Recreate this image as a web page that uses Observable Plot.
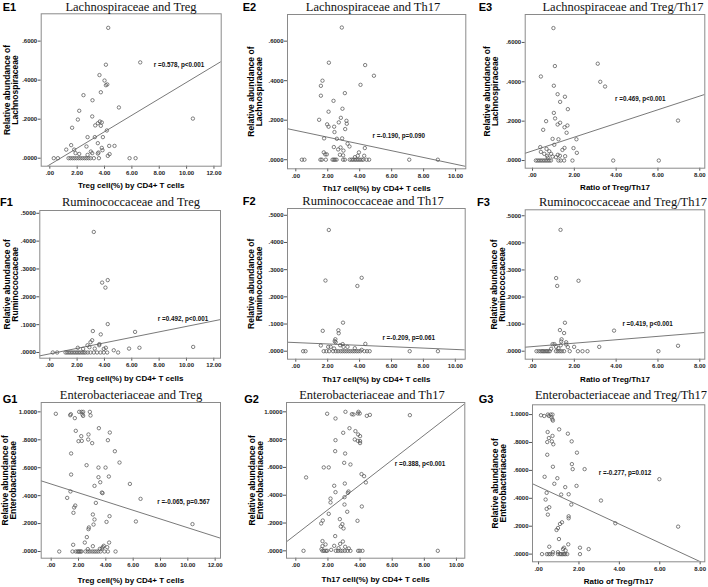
<!DOCTYPE html>
<html><head><meta charset="utf-8">
<script src="https://cdn.jsdelivr.net/npm/d3@7"></script>
<script src="https://cdn.jsdelivr.net/npm/@observablehq/plot@0.6"></script>
<style>
body{margin:0;background:#fff;}
#fig{position:relative;width:708px;height:587px;overflow:hidden;background:#fff;}
.title{position:absolute;font-family:"Liberation Serif","Times New Roman",serif;font-size:12.5px;line-height:1;white-space:nowrap;transform:translateX(-50%);color:#111;}
.tag{position:absolute;font-family:"Liberation Sans",Arial,sans-serif;font-weight:bold;font-size:11px;line-height:1;color:#000;white-space:nowrap;}
</style></head><body><div id="fig"></div>
<script>
// ---------- DATA ----------
const panelIds = ["E1","E2","E3","F1","F2","F3","G1","G2","G3"];
const titles = ["Lachnospiraceae and Treg","Lachnospiraceae and Th17","Lachnospiraceae and Treg/Th17",
  "Ruminococcaceae and Treg","Ruminococcaceae and Th17","Ruminococcaceae and Treg/Th17",
  "Enterobacteriaceae and Treg","Enterobacteriaceae and Th17","Enterobacteriaceae and Treg/Th17"];
const xLabels = ["Treg cell(%) by CD4+ T cells","Th17 cell(%) by CD4+ T cells","Ratio of Treg/Th17"];
const yLabels = ["Relative abundance of\nLachnospiraceae","Relative abundance of\nRuminococcaceae","Relative abundance of\nEnterobacteriaceae"];
const xTicks = [[0,2,4,6,8,10,12],[0,2,4,6,8,10],[0,2,4,6,8]];
const yTicks = [[0,0.2,0.4,0.6],[0,0.1,0.2,0.3,0.4,0.5],[0,0.2,0.4,0.6,0.8,1]];
const rTexts = ["r =0.578, p<0.001","r =-0.190, p=0.090","r =0.469, p<0.001",
  "r =0.492, p<0.001","r =-0.209, p=0.061","r =0.419, p<0.001",
  "r =-0.065, p=0.567","r =0.388, p<0.001","r =-0.277, p=0.012"];
const fitIntercepts = [-0.033, 0.148, 0.0492, -0.0048, 0.0317, 0.017, 0.483, 0.117, 0.484];
const fitSlopes = [0.0422, -0.0171, 0.0348, 0.00985, -0.00253, 0.00631, -0.0313, 0.0895, -0.0672];

const e1Pts = [[4.27,0.668],[6.61,0.491],[4.10,0.479],[3.63,0.426],[4.00,0.398],[4.20,0.378],[4.10,0.374],[3.73,0.338],[2.46,0.323],[3.12,0.297],[5.05,0.260],[2.15,0.243],[3.10,0.214],[2.05,0.198],[10.46,0.203],[3.66,0.188],[3.80,0.183],[3.51,0.179],[3.32,0.168],[3.73,0.166],[1.63,0.156],[4.17,0.142],[2.76,0.108],[3.29,0.108],[3.88,0.108],[3.51,0.077],[1.56,0.067],[4.34,0.063],[4.73,0.063],[2.68,0.060],[3.80,0.053],[1.20,0.044],[1.78,0.044],[3.85,0.041],[3.00,0.034],[3.56,0.029],[1.88,0.026],[2.15,0.022],[3.10,0.026],[4.37,0.021],[2.76,0.017],[4.24,0.012],[3.51,0.024],
  [0.29,0],[0.59,0],[1.37,0],[1.51,0],[1.66,0],[1.80,0],[1.95,0],[2.10,0],[2.24,0],[2.39,0],[2.54,0],[2.68,0],[2.83,0],[2.98,0],[3.22,0],[3.59,0],[5.83,0],[6.27,0]];
const e2Pts = [[2.88,0.669],[2.07,0.491],[4.34,0.479],[4.89,0.425],[1.67,0.400],[1.57,0.374],[4.05,0.379],[3.07,0.337],[1.57,0.324],[2.36,0.298],[2.92,0.258],[2.05,0.243],[2.82,0.212],[1.46,0.202],[3.17,0.197],[3.19,0.182],[1.96,0.179],[2.05,0.167],[2.40,0.167],[2.69,0.189],[3.09,0.155],[2.42,0.140],[1.77,0.108],[2.57,0.106],[2.90,0.108],[3.24,0.081],[3.36,0.067],[4.32,0.059],[2.38,0.064],[2.80,0.062],[2.65,0.052],[2.98,0.046],[1.75,0.037],[1.84,0.027],[1.94,0.027],[2.76,0.025],[3.95,0.037],[3.88,0.020],[2.96,0.022],[3.70,0.013],[4.28,0.020],
  [0.38,0],[0.54,0],[1.54,0],[1.63,0],[1.88,0],[2.30,0],[2.38,0],[2.46,0],[2.55,0],[2.96,0],[3.07,0],[3.38,0],[3.49,0],[3.59,0],[3.70,0],[3.80,0],[3.91,0],[4.01,0],[4.12,0],[4.22,0],[4.43,0],[4.59,0],[7.10,0],[8.89,0]];
const e3Pts = [[1.00,0.673],[3.12,0.492],[1.07,0.480],[0.40,0.427],[3.24,0.400],[3.47,0.376],[1.02,0.380],[1.20,0.337],[1.55,0.324],[1.32,0.298],[1.69,0.261],[1.02,0.242],[1.08,0.214],[0.65,0.200],[1.32,0.192],[1.20,0.183],[1.67,0.178],[1.53,0.169],[0.51,0.156],[1.63,0.141],[0.96,0.110],[1.24,0.108],[2.10,0.108],[1.04,0.080],[0.37,0.068],[1.53,0.064],[1.96,0.063],[0.67,0.059],[1.43,0.054],[0.80,0.047],[0.40,0.044],[2.12,0.039],[0.56,0.034],[0.89,0.034],[1.21,0.029],[0.70,0.024],[1.31,0.024],[1.56,0.022],[1.12,0.017],[0.73,0.015],[0.96,0.020],[6.96,0.203],
  [0.16,0],[0.24,0],[0.32,0],[0.40,0],[0.48,0],[0.56,0],[0.64,0],[0.72,0],[0.80,0],[0.88,0],[1.24,0],[1.35,0],[1.51,0],[1.91,0],[3.86,0],[6.04,0]];
const f1Pts = [[3.22,0.433],[4.24,0.260],[3.83,0.251],[4.07,0.233],[4.24,0.102],[3.15,0.077],[3.73,0.065],[6.24,0.074],[3.10,0.044],[2.98,0.037],[3.63,0.030],[2.76,0.026],[3.61,0.026],[2.05,0.017],[2.90,0.019],[4.10,0.017],[3.29,0.014],[2.44,0.013],[4.68,0.008],[5.80,0.014],[6.56,0.017],[10.49,0.020],[3.95,0.013],
  [0.22,0],[0.54,0],[1.15,0],[1.27,0],[1.39,0],[1.51,0],[1.63,0],[1.76,0],[1.88,0],[2.00,0],[2.12,0],[2.24,0],[2.37,0],[2.49,0],[2.61,0],[2.78,0],[2.98,0],[3.22,0],[3.46,0],[3.71,0],[3.95,0],[4.20,0],[5.00,0]];
const f2Pts = [[2.07,0.446],[4.13,0.270],[1.86,0.260],[3.86,0.240],[2.96,0.105],[1.69,0.075],[2.67,0.077],[2.69,0.066],[2.48,0.044],[2.44,0.037],[2.50,0.033],[4.36,0.027],[1.57,0.021],[2.78,0.022],[2.94,0.026],[2.19,0.016],[2.03,0.016],[2.99,0.016],[3.24,0.016],[2.40,0.010],[3.70,0.011],[4.13,0.005],
  [0.46,0],[0.61,0],[1.75,0],[1.92,0],[2.09,0],[2.34,0],[2.51,0],[2.65,0],[2.80,0],[2.92,0],[3.05,0],[3.17,0],[3.30,0],[3.42,0],[3.55,0],[3.67,0],[3.80,0],[3.92,0],[4.05,0],[4.30,0],[4.47,0],[4.63,0],[7.14,0],[8.91,0]];
const f3Pts = [[1.34,0.448],[1.13,0.270],[2.20,0.260],[1.18,0.241],[1.55,0.105],[1.31,0.078],[3.90,0.076],[1.51,0.067],[1.39,0.044],[1.37,0.036],[0.96,0.026],[1.05,0.026],[1.61,0.033],[1.61,0.025],[1.35,0.022],[1.99,0.016],[3.19,0.016],[6.96,0.020],[1.69,0.015],[1.13,0.016],[1.24,0.011],[0.89,0.009],
  [0.19,0],[0.29,0],[0.38,0],[0.45,0],[0.51,0],[0.57,0],[0.64,0],[0.70,0],[0.76,0],[0.83,0],[1.12,0],[1.21,0],[1.31,0],[1.40,0],[1.51,0],[1.78,0],[2.17,0],[2.39,0],[2.63,0],[6.02,0]];
const g1Pts = [[0.34,0.986],[1.44,0.983],[1.39,0.976],[2.05,1.0],[2.22,1.0],[2.34,1.0],[2.29,0.981],[2.34,0.971],[2.83,1.0],[2.88,0.974],[1.73,0.955],[3.49,0.883],[1.80,0.864],[4.29,0.852],[2.73,0.838],[2.20,0.826],[2.71,0.802],[4.15,0.797],[2.00,0.790],[2.24,0.792],[3.00,0.776],[4.66,0.718],[1.46,0.702],[5.00,0.637],[2.59,0.618],[3.46,0.601],[3.98,0.601],[1.46,0.551],[3.46,0.532],[4.22,0.537],[3.59,0.496],[5.76,0.484],[3.17,0.470],[1.41,0.430],[3.71,0.422],[3.76,0.418],[6.54,0.377],[1.17,0.384],[3.27,0.348],[1.76,0.329],[1.68,0.315],[1.63,0.277],[3.05,0.265],[4.27,0.253],[3.17,0.229],[4.05,0.212],[6.20,0.215],[3.10,0.193],[10.34,0.196],[2.76,0.172],[2.73,0.160],[2.61,0.103],[4.24,0.064],[2.46,0.064],[1.61,0.048],[3.05,0.038],[3.85,0.041],[3.78,0.031],[4.10,0.031],[2.68,0.017],[3.56,0.019],[3.71,0.021],
  [0.59,0],[1.56,0],[1.80,0],[1.93,0],[2.00,0],[2.07,0],[2.15,0],[2.22,0],[2.51,0],[2.68,0],[2.83,0],[3.00,0],[3.15,0],[3.29,0],[3.44,0],[3.61,0],[3.90,0],[4.15,0],[4.71,0]];
const g2Pts = [[3.09,1.0],[1.95,0.986],[3.49,0.983],[3.59,0.981],[3.86,0.988],[3.90,1.0],[3.98,0.988],[4.42,0.971],[4.61,0.978],[7.10,0.976],[2.47,0.952],[3.34,0.882],[2.95,0.849],[3.71,0.861],[3.88,0.837],[4.00,0.825],[2.47,0.796],[3.67,0.801],[3.86,0.791],[4.00,0.789],[4.00,0.775],[2.45,0.717],[3.07,0.700],[3.01,0.633],[3.40,0.621],[1.74,0.600],[2.05,0.600],[0.64,0.528],[4.09,0.552],[4.25,0.537],[4.36,0.492],[3.05,0.484],[2.39,0.468],[2.47,0.422],[3.28,0.427],[3.24,0.417],[2.16,0.376],[3.03,0.386],[2.16,0.348],[3.03,0.333],[4.11,0.319],[3.20,0.281],[2.05,0.266],[2.74,0.228],[3.84,0.216],[1.68,0.218],[1.58,0.197],[2.90,0.192],[2.80,0.175],[2.97,0.161],[2.45,0.106],[1.66,0.070],[2.93,0.067],[2.76,0.050],[1.85,0.046],[1.66,0.034],[2.39,0.036],[3.07,0.029],[3.30,0.017],[2.66,0.019],[1.60,0.012],[2.20,0.007],
  [0.48,0],[1.66,0],[1.76,0],[1.87,0],[1.95,0],[2.49,0],[2.63,0],[2.78,0],[2.90,0],[3.05,0],[3.22,0],[3.40,0],[3.88,0],[3.98,0],[4.15,0],[8.84,0]];
const g3Pts = [[0.12,0.995],[0.28,0.990],[0.46,1.0],[0.60,1.0],[0.69,1.0],[0.51,0.990],[0.64,0.981],[0.68,0.966],[0.71,0.957],[1.02,0.894],[0.45,0.875],[1.45,0.863],[0.69,0.847],[0.51,0.832],[1.64,0.808],[0.43,0.803],[0.66,0.808],[0.73,0.787],[1.90,0.727],[0.43,0.712],[1.65,0.645],[0.71,0.626],[1.69,0.609],[2.28,0.609],[5.98,0.537],[0.30,0.554],[0.93,0.544],[1.88,0.489],[0.78,0.504],[1.32,0.480],[1.12,0.427],[0.40,0.439],[1.49,0.429],[0.35,0.391],[3.09,0.384],[1.62,0.355],[0.40,0.324],[0.53,0.336],[0.46,0.283],[1.49,0.271],[1.49,0.257],[1.16,0.228],[1.06,0.216],[3.80,0.221],[6.91,0.197],[0.96,0.187],[0.89,0.173],[1.01,0.108],[1.47,0.070],[0.53,0.053],[1.26,0.046],[2.05,0.046],[2.48,0.036],[1.21,0.036],[1.34,0.026],[0.71,0.014],[0.96,0.014],
  [0.17,0],[0.41,0],[0.50,0],[0.58,0],[0.69,0],[0.96,0],[1.06,0],[1.12,0],[1.19,0],[1.26,0],[1.32,0],[1.42,0],[2.05,0]];
const panelPts = [e1Pts,e2Pts,e3Pts,f1Pts,f2Pts,f3Pts,g1Pts,g2Pts,g3Pts];

// ---------- LAYOUT (page pixels / data-unit placements) ----------
const colCells = [[0,236],[236,472],[472,708]];
const rowCells = [[0,196],[196,392],[392,587]];
const frames = [ // [left, top, right, bottom]
  [40.7,13.3,220.7,165.7],[287,14,465.3,168.3],[524.7,14,704.3,167.7],
  [39.3,210,220,357.7],[287,208,464.7,358.7],[524.7,209.3,704.3,358.7],
  [40.7,402,220,557.7],[286,402,464.3,557.7],[532,404.3,704.3,561.3]];
const xDomains = [[-0.63,12.53],[-0.52,10.64],[-0.35,8.24],[-0.73,12.49],[-0.52,10.62],[-0.35,8.24],[-0.73,12.39],[-0.58,10.52],[-0.30,8.23]];
const yDomains = [[-0.041,0.74],[-0.046,0.735],[-0.039,0.742],[-0.0205,0.51],[-0.0294,0.525],[-0.0295,0.522],[-0.048,1.067],[-0.053,1.067],[-0.055,1.07]];
const rPos = [[7.6,0.479],[4.8,0.118],[3.95,0.312],[7.9,0.120],[5.43,0.049],[4.30,0.102],[7.76,0.356],[6.16,0.628],[2.98,0.580]];
const yLabelDx = [-29.7,-32.3,-33.4,-28.6,-32.3,-27,-31.7,-30.3,-33];
const xLabelDy = [19.6,19.6,19.6,20.6,20.6,20.6,22.4,21,19.8];
const titlePos = [[131,11],[373,11],[623,11],[131,206.7],[373,205.3],[623,206],[131,399.3],[372,399.3],[621,399.3]];
const tagPos = [[2.7,11],[242.7,11],[478.7,11],[0,206.7],[242.7,205.3],[477,206],[2.7,403.7],[244.3,403.7],[478.7,403.7]];

const fmtX = v => d3.format(".2f")(v).replace(/^0\./, ".");
const fmtY = v => d3.format(".4f")(v).replace(/^0\./, ".");
const fig = document.getElementById("fig");

panelIds.forEach((id, i) => {
  const row = Math.floor(i / 3), col = i % 3;
  const [cx0, cx1] = colCells[col], [cy0, cy1] = rowCells[row];
  const [L, T, R, B] = frames[i];
  const pts = panelPts[i].map(([x, y]) => ({x, y}));
  const fit = xDomains[i].map(x => ({x, y: fitIntercepts[i] + fitSlopes[i] * x}));
  const axisStyle = {tickSize: 3, fontSize: 6, fontWeight: "bold", fill: "#222", stroke: "#555", label: null};
  const chart = Plot.plot({
    width: cx1 - cx0, height: cy1 - cy0,
    marginLeft: L - cx0, marginRight: cx1 - R, marginTop: T - cy0, marginBottom: cy1 - B,
    x: {domain: xDomains[i]},
    y: {domain: yDomains[i]},
    style: {fontFamily: "'Liberation Sans', Arial, sans-serif", background: "transparent", overflow: "visible"},
    marks: [
      Plot.axisX({...axisStyle, ticks: xTicks[col], tickFormat: fmtX, tickPadding: 1.5}),
      Plot.axisY({...axisStyle, ticks: yTicks[row], tickFormat: fmtY, tickPadding: 1}),
      Plot.line(fit, {x: "x", y: "y", stroke: "#6a6a6a", strokeWidth: 0.9, clip: true}),
      Plot.dot(pts, {x: "x", y: "y", r: 1.7, stroke: "#555", strokeWidth: 0.75, fill: "none"}),
      Plot.frame({stroke: "#8a8a8a", strokeWidth: 1}),
      Plot.text([rTexts[i]], {x: [rPos[i][0]], y: [rPos[i][1]], text: d => d, textAnchor: "start", fontSize: 6.3, fontWeight: "bold", fill: "#111"}),
      Plot.text([xLabels[col]], {text: d => d, frameAnchor: "bottom", lineAnchor: "middle", textAnchor: "middle", dy: xLabelDy[i], fontSize: 8, fontWeight: "bold", fill: "#000"}),
      Plot.text([yLabels[row]], {text: d => d, frameAnchor: "left", lineAnchor: "middle", textAnchor: "middle", rotate: -90, dx: yLabelDx[i], fontSize: 8.5, lineHeight: 0.92, fontWeight: "bold", fill: "#000"})
    ]
  });
  chart.style.position = "absolute";
  chart.style.left = cx0 + "px";
  chart.style.top = cy0 + "px";
  fig.appendChild(chart);

  const t = document.createElement("div");
  t.className = "title";
  t.textContent = titles[i];
  t.style.left = titlePos[i][0] + "px";
  t.style.top = (titlePos[i][1] - 10.5) + "px";
  fig.appendChild(t);

  const g = document.createElement("div");
  g.className = "tag";
  g.textContent = id;
  g.style.left = tagPos[i][0] + "px";
  g.style.top = (tagPos[i][1] - 9.3) + "px";
  fig.appendChild(g);
});
</script>
</body></html>
